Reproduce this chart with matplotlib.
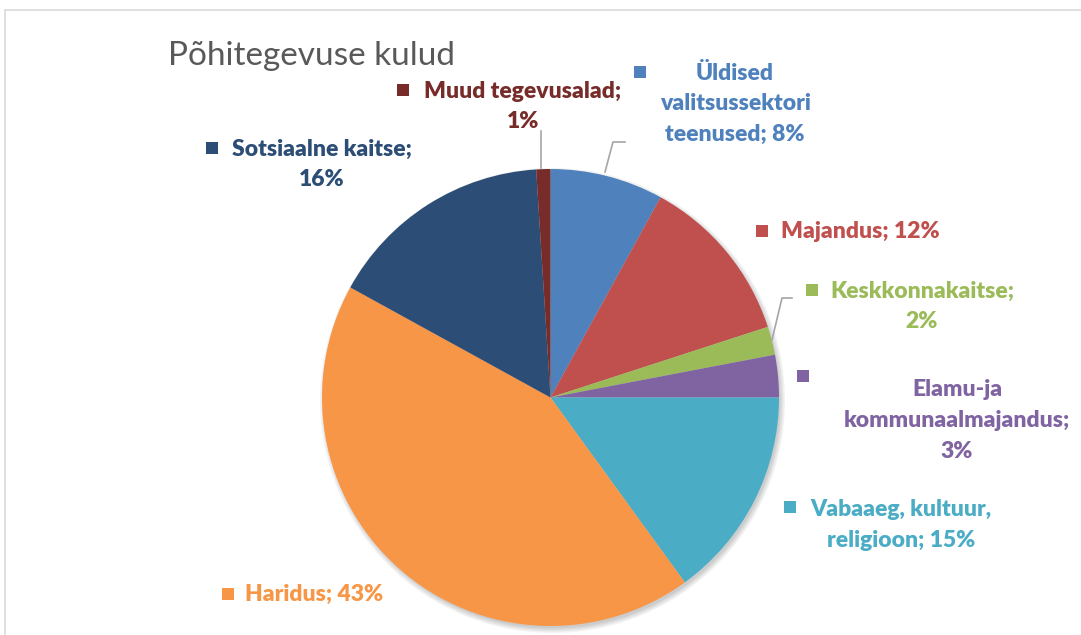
import matplotlib
matplotlib.use("Agg")
import matplotlib.pyplot as plt
from matplotlib.patches import Circle, Rectangle

# ---- data ----
categories = ["Üldised valitsussektori teenused", "Majandus", "Keskkonnakaitse",
              "Elamu-ja kommunaalmajandus", "Vabaaeg, kultuur, religioon",
              "Haridus", "Sotsiaalne kaitse", "Muud tegevusalad"]
values = [8, 12, 2, 3, 15, 43, 16, 1]
colors = ["#4F81BD", "#C0504D", "#9BBB59", "#8064A2", "#4BACC6",
          "#F79646", "#2C4D75", "#772C2A"]
title = "Põhitegevuse kulud"

# label lines (how each label wraps) -- text built from data
label_lines = [
    ["Üldised", "valitsussektori", "teenused; {p}%"],
    ["Majandus; {p}%"],
    ["Keskkonnakaitse;", "{p}%"],
    ["Elamu-ja", "kommunaalmajandus;", "{p}%"],
    ["Vabaaeg, kultuur,", "religioon; {p}%"],
    ["Haridus; {p}%"],
    ["Sotsiaalne kaitse;", "{p}%"],
    ["Muud tegevusalad;", "{p}%"],
]

# layout (pixel coords, y from top)
W, H = 1081, 635
# (text center x, first line y, square x, square y)
label_pos = [
    (735, 73, 640, 72),
    (860, 231, 762, 231),
    (922, 291, 812, 290),
    (957, 390, 803, 376),
    (901, 510, 790, 507),
    (314, 594, 228, 594),
    (322, 149, 212, 148),
    (523, 91, 403, 90),
]
line_gap = 30.5
leaders = [
    [(605, 172), (613, 142), (625, 142)],
    [(772, 340), (782, 298), (792, 298)],
    [(541, 168), (541, 131)],
]

fig = plt.figure(figsize=(W / 100, H / 100), dpi=100)
ax = fig.add_axes([0, 0, 1, 1])
ax.set_xlim(0, W)
ax.set_ylim(0, H)
ax.set_aspect("equal")
ax.axis("off")

def Y(py):
    return H - py

# frame
ax.add_patch(Rectangle((5, -5), W + 10, Y(10) + 5, fill=False,
                       edgecolor="#D9D9D9", linewidth=1.2))

cx, cy, r = 550.5, Y(397.5), 228.5

# shadow
for i, a in enumerate([0.05, 0.05, 0.05, 0.06]):
    ax.add_patch(Circle((cx + 2, cy - 3), r + 4 - i * 1.5, color="#000000",
                        alpha=a, linewidth=0, zorder=1))

ax.pie(values, colors=colors, startangle=90, counterclock=False,
       center=(cx, cy), radius=r, frame=True,
       wedgeprops=dict(linewidth=0, zorder=2))
ax.set_xlim(0, W)
ax.set_ylim(0, H)
ax.axis("off")

ax.text(168, Y(56), title, fontsize=24, color="#595959",
        family=["Lato", "DejaVu Sans"], fontweight="normal",
        ha="left", va="center")

for lines, pos, col, v in zip(label_lines, label_pos, colors, values):
    tx, ty, sx, sy = pos
    for k, ln in enumerate(lines):
        ax.text(tx, Y(ty + k * line_gap), ln.format(p=v), fontsize=16.5,
                color=col, family=["Lato", "DejaVu Sans"], fontweight="heavy",
                ha="center", va="center")
    ax.add_patch(Rectangle((sx - 6, Y(sy) - 6), 12, 12, color=col,
                           linewidth=0))

for pts in leaders:
    xs = [p[0] for p in pts]
    ys = [Y(p[1]) for p in pts]
    ax.plot(xs, ys, color="#A6A6A6", linewidth=1.2)

fig.savefig("out.png", dpi=100)
